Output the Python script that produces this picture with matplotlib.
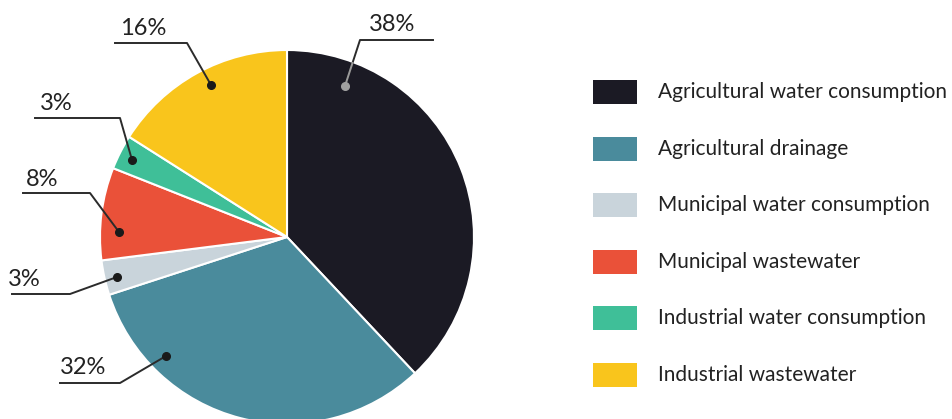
import matplotlib.pyplot as plt
from matplotlib.patches import Rectangle

plt.rcParams['font.family'] = ['Lato', 'DejaVu Sans']

categories = ['Agricultural water consumption', 'Agricultural drainage',
              'Municipal water consumption', 'Municipal wastewater',
              'Industrial water consumption', 'Industrial wastewater']
shares = [38, 32, 3, 8, 3, 16]
colors = ['#1b1a24', '#4a8b9c', '#c9d4db', '#ea5139', '#3fbf98', '#f9c51c']

# label layout in pixels: (text x, text y, underline x0, x1, y, dot x, dot y)
label_pos = [
    (392, 24, 360, 433, 40, 345, 86),
    (83, 368, 60, 120, 383, 166, 356),
    (24, 279, 12, 70, 294, 117, 277),
    (42, 179, 23, 90, 193, 119, 232),
    (56, 103, 35, 120, 118, 132, 160),
    (143, 28, 115, 187, 43, 211, 85),
]

W, H = 953, 419
fig = plt.figure(figsize=(W / 100, H / 100), dpi=100)
ax = fig.add_axes([0, 0, 1, 1])

cx, cy, r = 287, 237, 187
wedges, _ = ax.pie(shares, colors=colors, startangle=90, counterclock=False,
                   center=(cx, H - cy), radius=r,
                   wedgeprops=dict(edgecolor='white', linewidth=1.5))

for i, (pct, pos) in enumerate(zip(shares, label_pos)):
    tx, ty, ux0, ux1, uy, dx, dy = pos
    # underline, then a leader from its pie-side end to the dot
    if dx > ux1:
        line_x = [ux0, ux1, dx]
    else:
        line_x = [ux1, ux0, dx]
    line_y = [H - uy, H - uy, H - dy]
    ax.plot(line_x, line_y, color='#2b2b2b', lw=1.4, zorder=3)
    dot_col = '#1a1a1a'
    if i == 0:
        # part inside the dark slice is drawn light
        ln, = ax.plot(line_x, line_y, color='#9a9a9a', lw=1.4, zorder=4)
        ln.set_clip_path(wedges[0])
        dot_col = '#a0a0a0'
    ax.plot(dx, H - dy, 'o', color=dot_col, ms=5.5, zorder=5)
    ax.text(tx, H - ty, f'{pct}%', ha='center', va='center', fontsize=17,
            color='#222222')

# legend
for i, (name, col) in enumerate(zip(categories, colors)):
    yc = 92 + i * 56.6
    ax.add_patch(Rectangle((593, H - yc - 12), 44, 24, facecolor=col,
                           edgecolor='none'))
    ax.text(658, H - yc, name, ha='left', va='center', fontsize=15,
            color='#222222')

ax.set_xlim(0, W)
ax.set_ylim(0, H)
ax.set_aspect('equal')
ax.axis('off')

fig.savefig('out.png', dpi=100)
